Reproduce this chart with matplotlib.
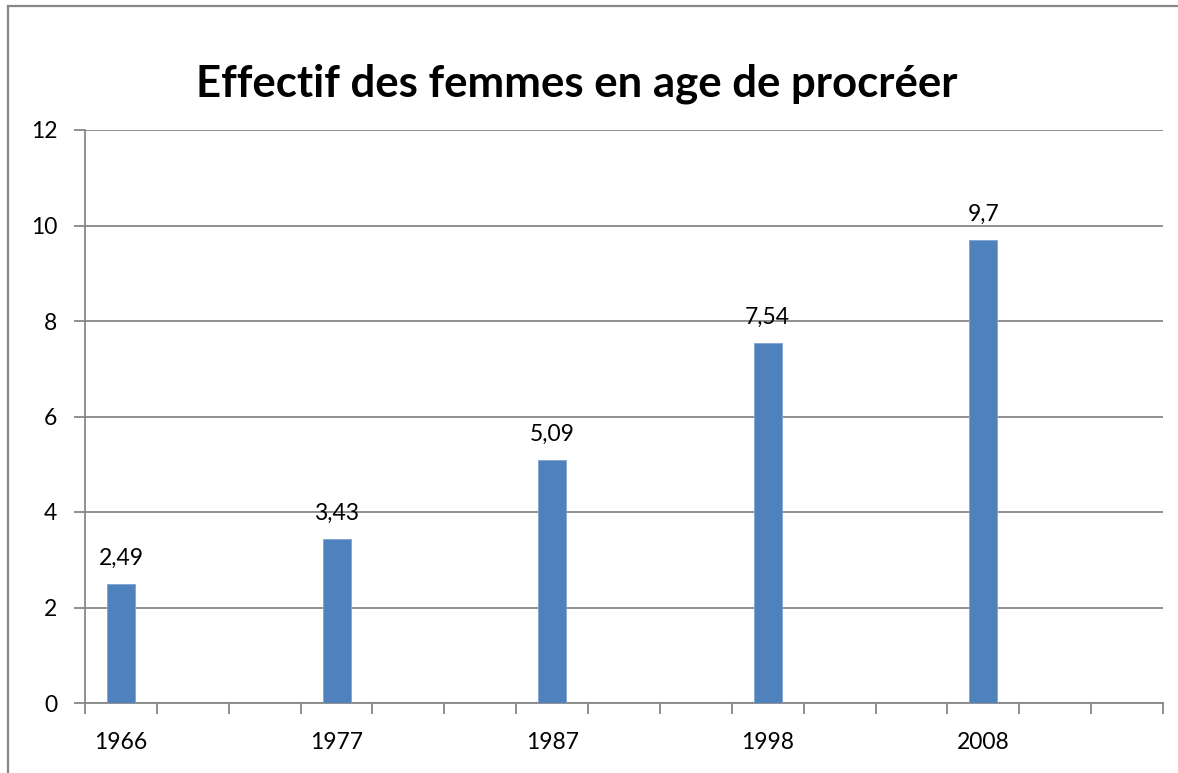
import matplotlib.pyplot as plt
import numpy as np
from matplotlib.lines import Line2D

plt.rcParams['font.family'] = ['Lato', 'DejaVu Sans']

# Data
years = ['1966', '1977', '1987', '1998', '2008']
values = [2.49, 3.43, 5.09, 7.54, 9.7]
value_labels = ['2,49', '3,43', '5,09', '7,54', '9,7']

slot = 3          # each year sits every 3 category slots
n_slots = 15
grey = '#878787'
bar_color = '#4F81BD'

fig = plt.figure(figsize=(11.78, 7.73), dpi=100)
ax = fig.add_axes([85 / 1178, 70 / 773, 1078 / 1178, 573 / 773])

pos = np.arange(len(years)) * slot
ax.bar(pos, values, width=0.39, color=bar_color, edgecolor='#7FA3D3', linewidth=0.6, zorder=3)

for x, v, lab in zip(pos, values, value_labels):
    ax.annotate(lab, (x, v), xytext=(0, 11), textcoords='offset points',
                ha='center', va='bottom', fontsize=16.5, color='black')

ax.set_xlim(-0.5, n_slots - 0.5)
ax.set_ylim(0, 12)
ax.set_yticks(np.arange(0, 13, 2))
ax.yaxis.grid(True, color=grey, linewidth=1.3, zorder=0)

# category boundary ticks + labels centred under bars
ax.set_xticks(np.arange(-0.5, n_slots, 1))
ax.set_xticklabels([])
ax.set_xticks(pos, minor=True)
ax.set_xticklabels(years, minor=True, fontsize=16.5)
ax.tick_params(axis='x', which='major', length=8, width=1.3, color=grey, direction='out')
ax.tick_params(axis='x', which='minor', length=0, pad=21)
ax.tick_params(axis='y', length=8, width=1.3, color=grey, direction='out', pad=12, labelsize=16.5)

for s in ['top', 'right']:
    ax.spines[s].set_visible(False)
for s in ['left', 'bottom']:
    ax.spines[s].set_color(grey)
    ax.spines[s].set_linewidth(1.3)

fig.text(577 / 1178, 1 - 84 / 773, 'Effectif des femmes en age de procréer',
         ha='center', va='center', fontsize=31.5, fontweight='bold')

# chart frame (runs off the right and bottom of the picture)
fig.add_artist(Line2D([8 / 1178, 8 / 1178], [0, 1 - 6 / 773], color=grey, linewidth=1.6))
fig.add_artist(Line2D([8 / 1178, 1], [1 - 6 / 773, 1 - 6 / 773], color=grey, linewidth=1.6))

plt.savefig('out.png', dpi=100)
